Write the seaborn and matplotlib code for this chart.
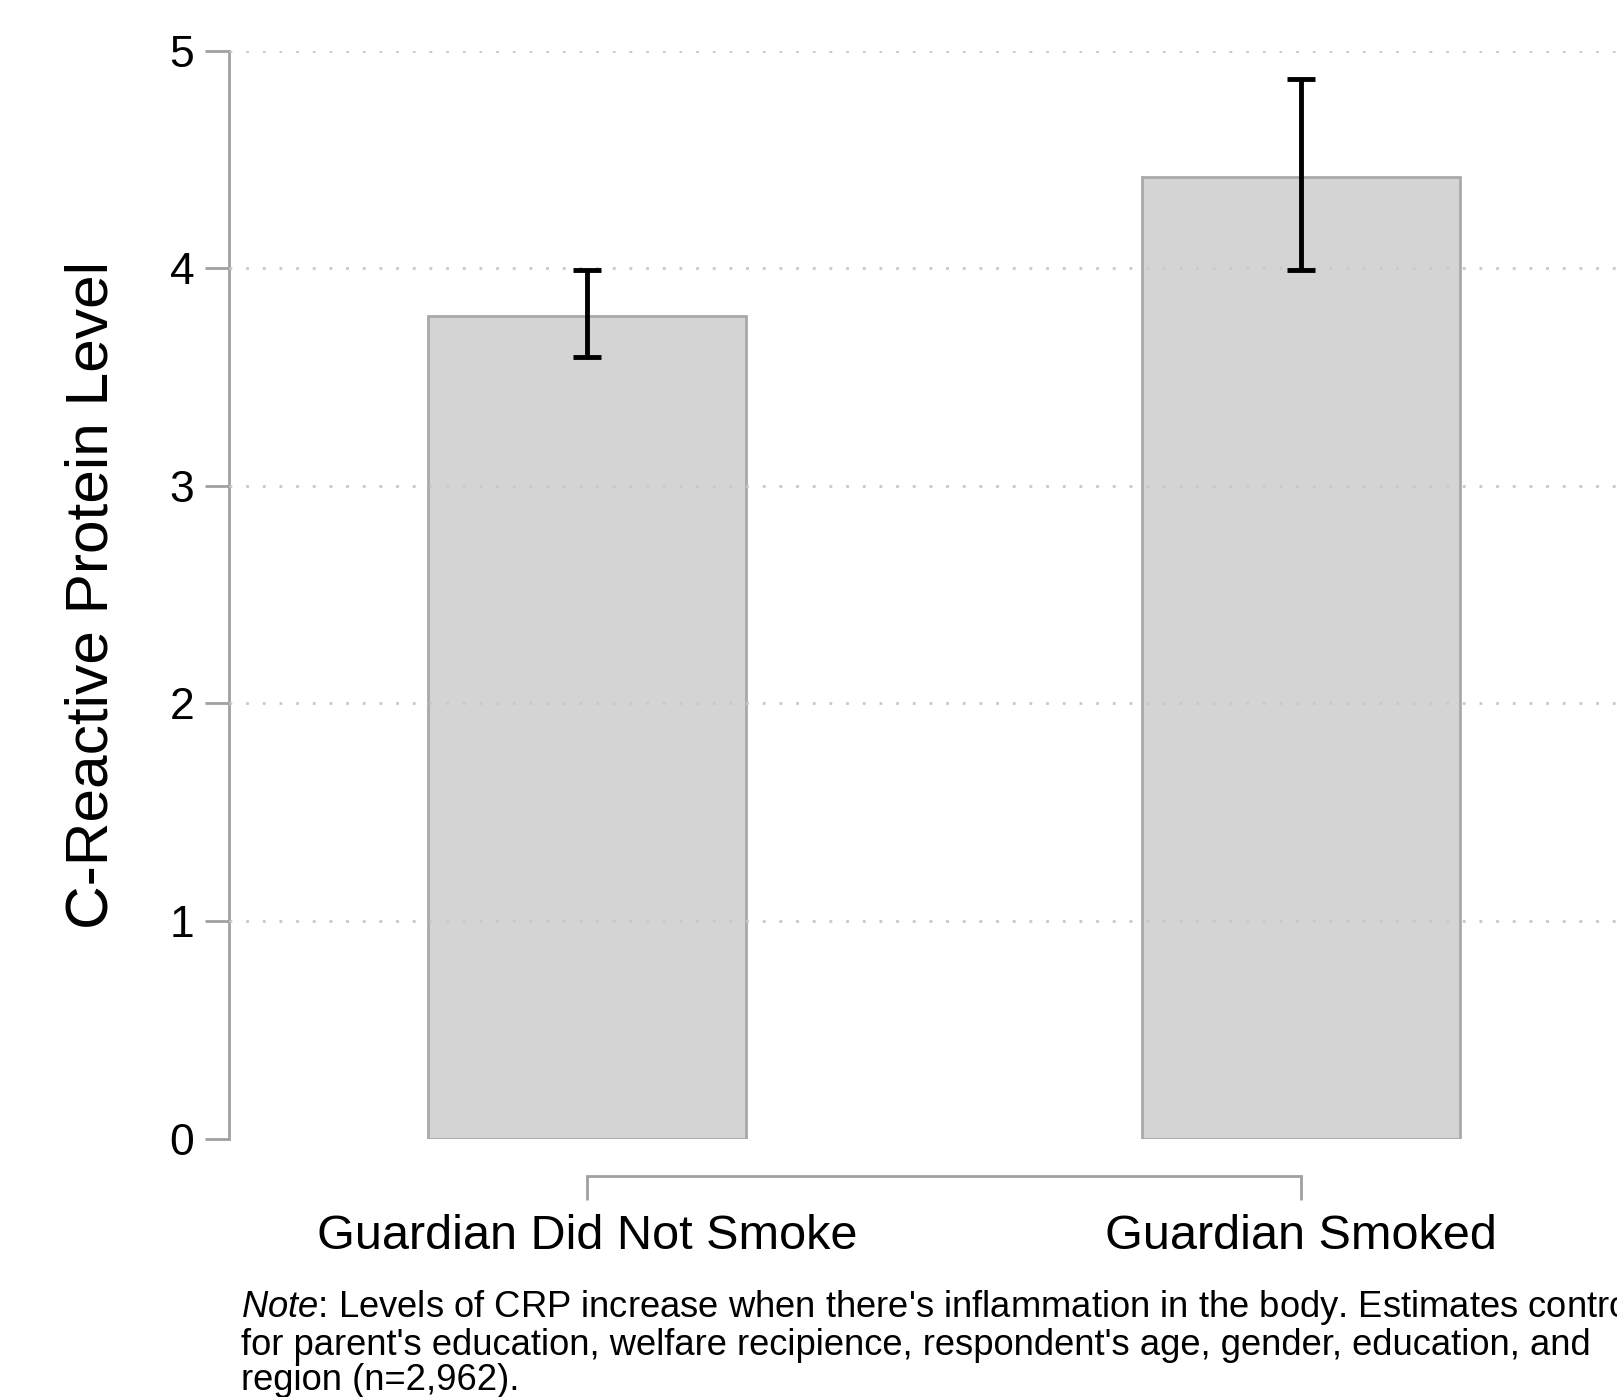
import numpy as np
import pandas as pd
import matplotlib
matplotlib.use("Agg")
import matplotlib.pyplot as plt
import seaborn as sns

# data
groups = ["Guardian Did Not Smoke", "Guardian Smoked"]
crp_mean = [3.78, 4.42]
ci_low = [3.59, 3.99]
ci_high = [3.99, 4.87]
y_ticks = [0, 1, 2, 3, 4, 5]

note = ("$\\it{Note}$: Levels of CRP increase when there's inflammation in the body. Estimates controlled\n"
        "for parent's education, welfare recipience, respondent's age, gender, education, and\n"
        "region (n=2,962).")

sns.set_theme(style="white")
plt.rcParams["font.family"] = ["Liberation Sans", "DejaVu Sans"]
plt.rcParams["mathtext.fontset"] = "custom"
plt.rcParams["mathtext.rm"] = "Liberation Sans"
plt.rcParams["mathtext.it"] = "Liberation Sans:italic"
plt.rcParams["text.color"] = "black"
plt.rcParams["axes.labelcolor"] = "black"
plt.rcParams["xtick.labelcolor"] = "black"
plt.rcParams["ytick.labelcolor"] = "black"

df = pd.DataFrame({"group": groups, "crp": crp_mean})

fig = plt.figure(figsize=(16.17, 13.97), dpi=100)
ax = fig.add_axes([0.1416, 0.185, 0.8837, 0.7787])

sns.barplot(data=df, x="group", y="crp", ax=ax, width=0.445,
            color="#d4d4d4", saturation=1, edgecolor="#a9a9a9", linewidth=2, zorder=1)

# confidence intervals
mid = np.array(crp_mean)
yerr = [mid - np.array(ci_low), np.array(ci_high) - mid]
ax.errorbar(x=np.arange(len(groups)), y=mid, yerr=yerr, fmt="none",
            ecolor="black", elinewidth=3.5, capsize=10, capthick=3.5, zorder=4)
ax.set_xlim(-0.502, 1.5)
ax.set_ylim(0, 5)
ax.set_yticks(y_ticks)

# dotted grid above the bars
for yv in y_ticks[1:]:
    ax.axhline(yv, color="#c8c8c8", lw=2, ls=(0, (1, 5)), zorder=3)

sns.despine(ax=ax, top=True, right=True)
ax.spines["left"].set_color("#a0a0a0")
ax.spines["left"].set_linewidth(2)
ax.spines["bottom"].set_color("#a0a0a0")
ax.spines["bottom"].set_linewidth(2)
ax.spines["bottom"].set_position(("outward", 27))
ax.spines["bottom"].set_bounds(0, 1)

ax.tick_params(axis="y", direction="out", length=17, width=2, color="#a0a0a0",
               labelsize=32, pad=8, left=True)
ax.tick_params(axis="x", direction="out", length=17, width=2, color="#a0a0a0",
               labelsize=35, pad=10, bottom=True)
ax.set_xlabel("")
ax.set_ylabel("C-Reactive Protein Level", fontsize=43.5, labelpad=36)

fig.text(241 / 1617, 1 - 1288 / 1397, note, fontsize=26.2, va="top", ha="left",
         linespacing=1.02)

fig.savefig("out.png", dpi=100)
